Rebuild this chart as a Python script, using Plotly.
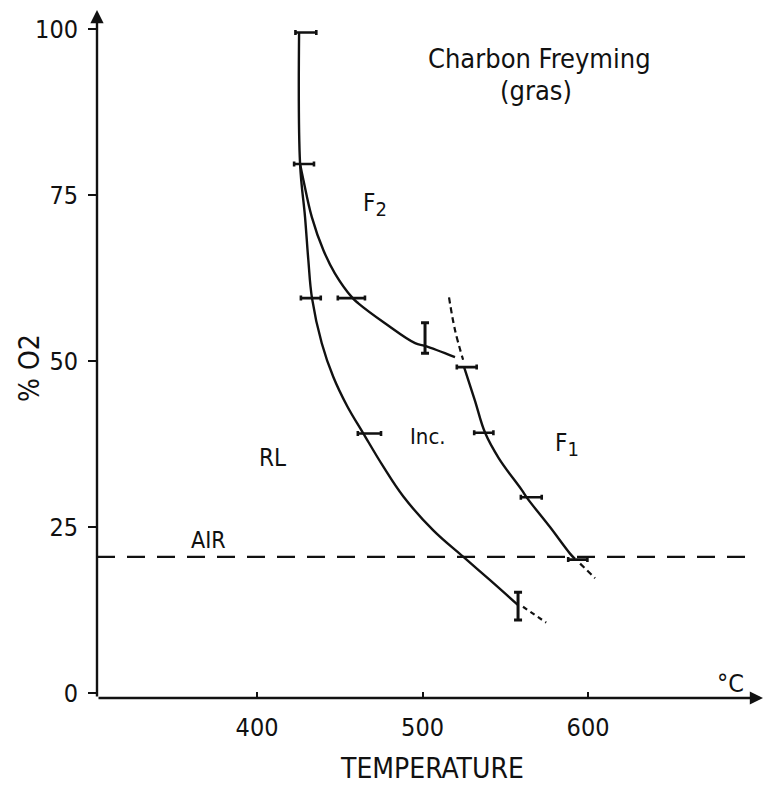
import plotly.graph_objects as go

# ---------------- data ----------------
# RL / Inc. boundary (solid), starting with the vertical segment at ~425 C
rl_T  = [425.4, 426.0, 429.0, 431.0, 433.2, 439.1, 446.1, 454.5, 464.0,
         476.3, 488.4, 506.5, 524.7, 540.8, 557.9]
rl_O2 = [99.5, 79.7, 71.7, 65.2, 59.5, 52.7, 47.6, 43.2, 39.2,
         34.1, 29.6, 24.5, 20.5, 17.0, 13.2]
# dashed extrapolation of the RL boundary
rl_ext_T  = [560.7, 574.7]
rl_ext_O2 = [13.0, 10.6]

# F2 boundary
f2_T  = [426.0, 428.0, 433.1, 440.1, 447.1, 457.4, 461.2, 477.3, 495.5, 501.5, 519.6]
f2_O2 = [79.7, 77.3, 71.7, 66.7, 63.2, 59.6, 58.7, 55.7, 52.7, 52.3, 50.6]

# F1 boundary (solid) + dashed extensions
f1_T  = [525.1, 531.6, 537.8, 546.0, 559.9, 563.1, 577.0, 589.1, 592.1]
f1_O2 = [49.1, 44.1, 39.2, 35.4, 30.6, 29.4, 25.0, 21.0, 20.2]
f1_top_T  = [516.0, 519.6, 524.5]
f1_top_O2 = [59.6, 54.7, 50.2]
f1_end_T  = [595.2, 604.2]
f1_end_O2 = [19.5, 17.3]

# air line
air_T  = [303.3, 699.6]
air_O2 = [20.5, 20.5]

# horizontal error bars: centre T, O2, half-width (C)
hb_T  = [429.5, 428.4, 432.5, 457.0, 526.7, 537.0, 467.9, 565.7, 593.8]
hb_O2 = [99.5, 79.7, 59.5, 59.5, 49.1, 39.2, 39.1, 29.5, 20.1]
hb_err = [6.3, 6.0, 6.0, 8.2, 6.0, 5.8, 7.0, 6.3, 5.8]

# vertical error bars: centre T, O2, half-height (%)
vb_T  = [501.5, 557.7]
vb_O2 = [53.5, 13.1]
vb_err = [2.3, 2.1]

x_ticks = [400, 500, 600]
y_ticks = [0, 25, 50, 75, 100]

X_RANGE = [303.3, 705.7]
Y_RANGE = [-0.75, 102.9]

FONT = "DejaVu Sans Condensed, DejaVu Sans, sans-serif"
BLACK = "#111111"

fig = go.Figure()

def line(xs, ys, dash="solid", width=2.4, smoothing=1.1):
    fig.add_trace(go.Scatter(
        x=xs, y=ys, mode="lines",
        line=dict(color=BLACK, width=width, dash=dash, shape="spline", smoothing=smoothing),
        hoverinfo="skip", showlegend=False))

line(rl_T, rl_O2)
line(rl_ext_T, rl_ext_O2, dash="5px,4px", width=2.2)
line(f2_T, f2_O2)
line(f1_T, f1_O2)
line(f1_top_T, f1_top_O2, dash="6px,4px", width=2.2)
line(f1_end_T, f1_end_O2, dash="6px,4px", width=2.2)
fig.add_trace(go.Scatter(
    x=air_T, y=air_O2, mode="lines",
    line=dict(color=BLACK, width=2.2, dash="18px,12px"),
    hoverinfo="skip", showlegend=False))

# horizontal error bars
fig.add_trace(go.Scatter(
    x=hb_T, y=hb_O2, mode="markers",
    marker=dict(size=1, color="rgba(0,0,0,0)"),
    error_x=dict(type="data", array=hb_err, visible=True, color=BLACK,
                 thickness=2.6, width=2.5),
    hoverinfo="skip", showlegend=False))
# vertical error bars
fig.add_trace(go.Scatter(
    x=vb_T, y=vb_O2, mode="markers",
    marker=dict(size=1, color="rgba(0,0,0,0)"),
    error_y=dict(type="data", array=vb_err, visible=True, color=BLACK,
                 thickness=3, width=4),
    hoverinfo="skip", showlegend=False))

# axes with arrow heads
fig.add_annotation(x=X_RANGE[1], y=Y_RANGE[0], ax=X_RANGE[0], ay=Y_RANGE[0],
                   xref="x", yref="y", axref="x", ayref="y", text="",
                   showarrow=True, arrowhead=2, arrowsize=1.1, arrowwidth=2.4,
                   arrowcolor=BLACK, standoff=0)
fig.add_annotation(x=X_RANGE[0], y=Y_RANGE[1], ax=X_RANGE[0], ay=Y_RANGE[0],
                   xref="x", yref="y", axref="x", ayref="y", text="",
                   showarrow=True, arrowhead=2, arrowsize=1.1, arrowwidth=2.4,
                   arrowcolor=BLACK, standoff=0)

def label(txt, x, y, size=24, **kw):
    fig.add_annotation(x=x, y=y, xref="x", yref="y", text=txt, showarrow=False,
                       xanchor="center", yanchor="middle",
                       font=dict(family=FONT, size=size, color=BLACK), **kw)

label("Charbon Freyming", 570.4, 95.6, size=27)
label("(gras)", 568.6, 90.8, size=27)
label("F<sub><span style='font-size:20px'>2</span></sub>", 471.5, 73.5, size=24)
label("F<sub><span style='font-size:20px'>1</span></sub>", 587.0, 37.3, size=24)
label("Inc.", 503.3, 38.6, size=22)
label("RL", 409.1, 35.4, size=24)
label("AIR", 370.4, 23.0, size=23)
label("°C", 685.8, 1.5, size=25)

fig.add_annotation(x=0.503, y=-0.103, xref="paper", yref="paper", text="TEMPERATURE",
                   showarrow=False, xanchor="center", yanchor="middle",
                   font=dict(family=FONT, size=28, color=BLACK))
fig.add_annotation(x=-0.1006, y=0.4797, xref="paper", yref="paper", text="% O2",
                   showarrow=False, textangle=-90, xanchor="center", yanchor="middle",
                   font=dict(family=FONT, size=28, color=BLACK))

fig.update_layout(
    width=765, height=785,
    margin=dict(l=97, r=2, t=10, b=87),
    paper_bgcolor="white", plot_bgcolor="white",
    showlegend=False,
    font=dict(family=FONT, size=25, color=BLACK),
    xaxis=dict(range=X_RANGE, tickvals=x_ticks, ticktext=[str(v) for v in x_ticks],
               showgrid=False, zeroline=False, showline=False,
               ticks="inside", ticklen=6, tickwidth=2, tickcolor=BLACK,
               ticklabelstandoff=12, tickfont=dict(family=FONT, size=25, color=BLACK)),
    yaxis=dict(range=Y_RANGE, tickvals=y_ticks, ticktext=[str(v) for v in y_ticks],
               showgrid=False, zeroline=False, showline=False,
               ticks="outside", ticklen=8, tickwidth=2, tickcolor=BLACK,
               ticklabelstandoff=5, tickfont=dict(family=FONT, size=25, color=BLACK)),
)

fig.write_html("out.html")
